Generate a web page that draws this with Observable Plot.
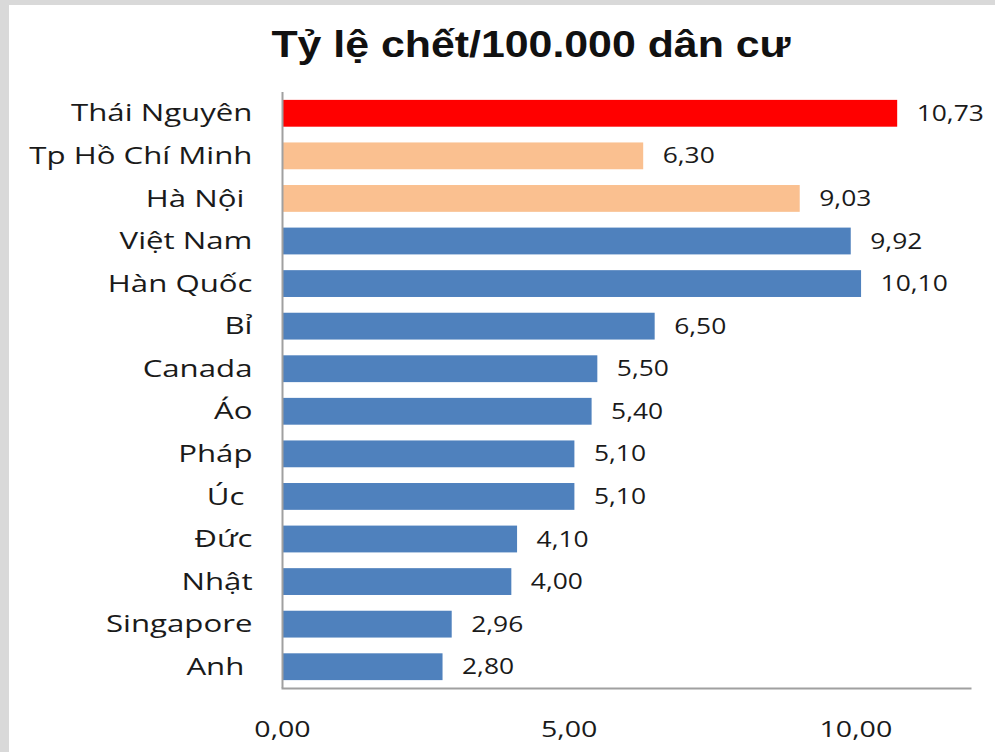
<!DOCTYPE html>
<html><head><meta charset="utf-8">
<script src="https://cdn.jsdelivr.net/npm/d3@7"></script>
<script src="https://cdn.jsdelivr.net/npm/@observablehq/plot@0.6"></script>
<style>
html,body{margin:0;padding:0;background:#d9d9d9;width:995px;height:752px;overflow:hidden}
#panel{position:absolute;left:9px;top:5px;width:986px;height:747px;background:#fff}
#title{position:absolute;left:231px;width:600px;top:27px;text-align:center;font:bold 36px "Liberation Sans",Arial,sans-serif;line-height:36px;color:#111;transform:scaleX(1.19);white-space:nowrap}
#chart{position:absolute;left:0;top:0}
</style></head><body>
<div id="panel"></div>
<div id="chart"></div>
<div id="title">Tỷ lệ chết/100.000 dân cư</div>
<script>
const categories = ["Thái Nguyên","Tp Hồ Chí Minh","Hà Nội ","Việt Nam","Hàn Quốc","Bỉ","Canada","Áo","Pháp","Úc ","Đức","Nhật","Singapore","Anh "];
const values = [10.73, 6.30, 9.03, 9.92, 10.10, 6.50, 5.50, 5.40, 5.10, 5.10, 4.10, 4.00, 2.96, 2.80];
const groups = ["Thái Nguyên","Thành phố","Thành phố","Quốc gia","Quốc gia","Quốc gia","Quốc gia","Quốc gia","Quốc gia","Quốc gia","Quốc gia","Quốc gia","Quốc gia","Quốc gia"];
const groupNames = ["Thái Nguyên","Thành phố","Quốc gia"];
const groupColors = ["#ff0000","#fac090","#4f81bd"];
const xTicks = [0, 5, 10];

const fmt = v => v.toFixed(2).replace(".", ",");
const data = categories.map((c, i) => ({name: c, value: values[i], group: groups[i]}));

const svg = Plot.plot({
  width: 995,
  height: 752,
  marginLeft: 282,
  marginRight: 25,
  marginTop: 92,
  marginBottom: 64,
  style: {fontFamily: "'Open Sans', sans-serif", background: "transparent", color: "#222"},
  x: {domain: [0, 12]},
  y: {domain: categories, paddingInner: 0.37, paddingOuter: 0.185, round: false},
  color: {domain: groupNames, range: groupColors},
  marks: [
    Plot.barX(data, {y: "name", x: "value", fill: "group"}),
    Plot.text(data, {y: "name", x: "value", text: d => fmt(d.value), textAnchor: "start", dx: 19, fontSize: 22, fill: "#1a1a1a"}),
    Plot.ruleX([0], {stroke: "#a0a0a0", strokeWidth: 2}),
    Plot.frame({anchor: "bottom", stroke: "#a0a0a0", strokeWidth: 2}),
    Plot.axisX({ticks: xTicks, tickSize: 0, tickPadding: 33, tickFormat: fmt, fontSize: 22, label: null, fill: "#1a1a1a"}),
    Plot.axisY({tickSize: 0, tickPadding: 30, fontSize: 24, label: null, fill: "#1a1a1a", tickFormat: d => d.replace(/ $/, "\u00a0")})
  ]
});

function stretch(sel, s) {
  svg.querySelectorAll(sel).forEach(t => {
    t.setAttribute("transform", (t.getAttribute("transform") || "") + ` scale(${s},1)`);
  });
}
stretch('g[aria-label="y-axis tick label"] text', 1.3);
stretch('g[aria-label="x-axis tick label"] text', 1.3);
stretch('g[aria-label="text"] text', 1.2);

document.getElementById("chart").appendChild(svg);
</script>
</body></html>
